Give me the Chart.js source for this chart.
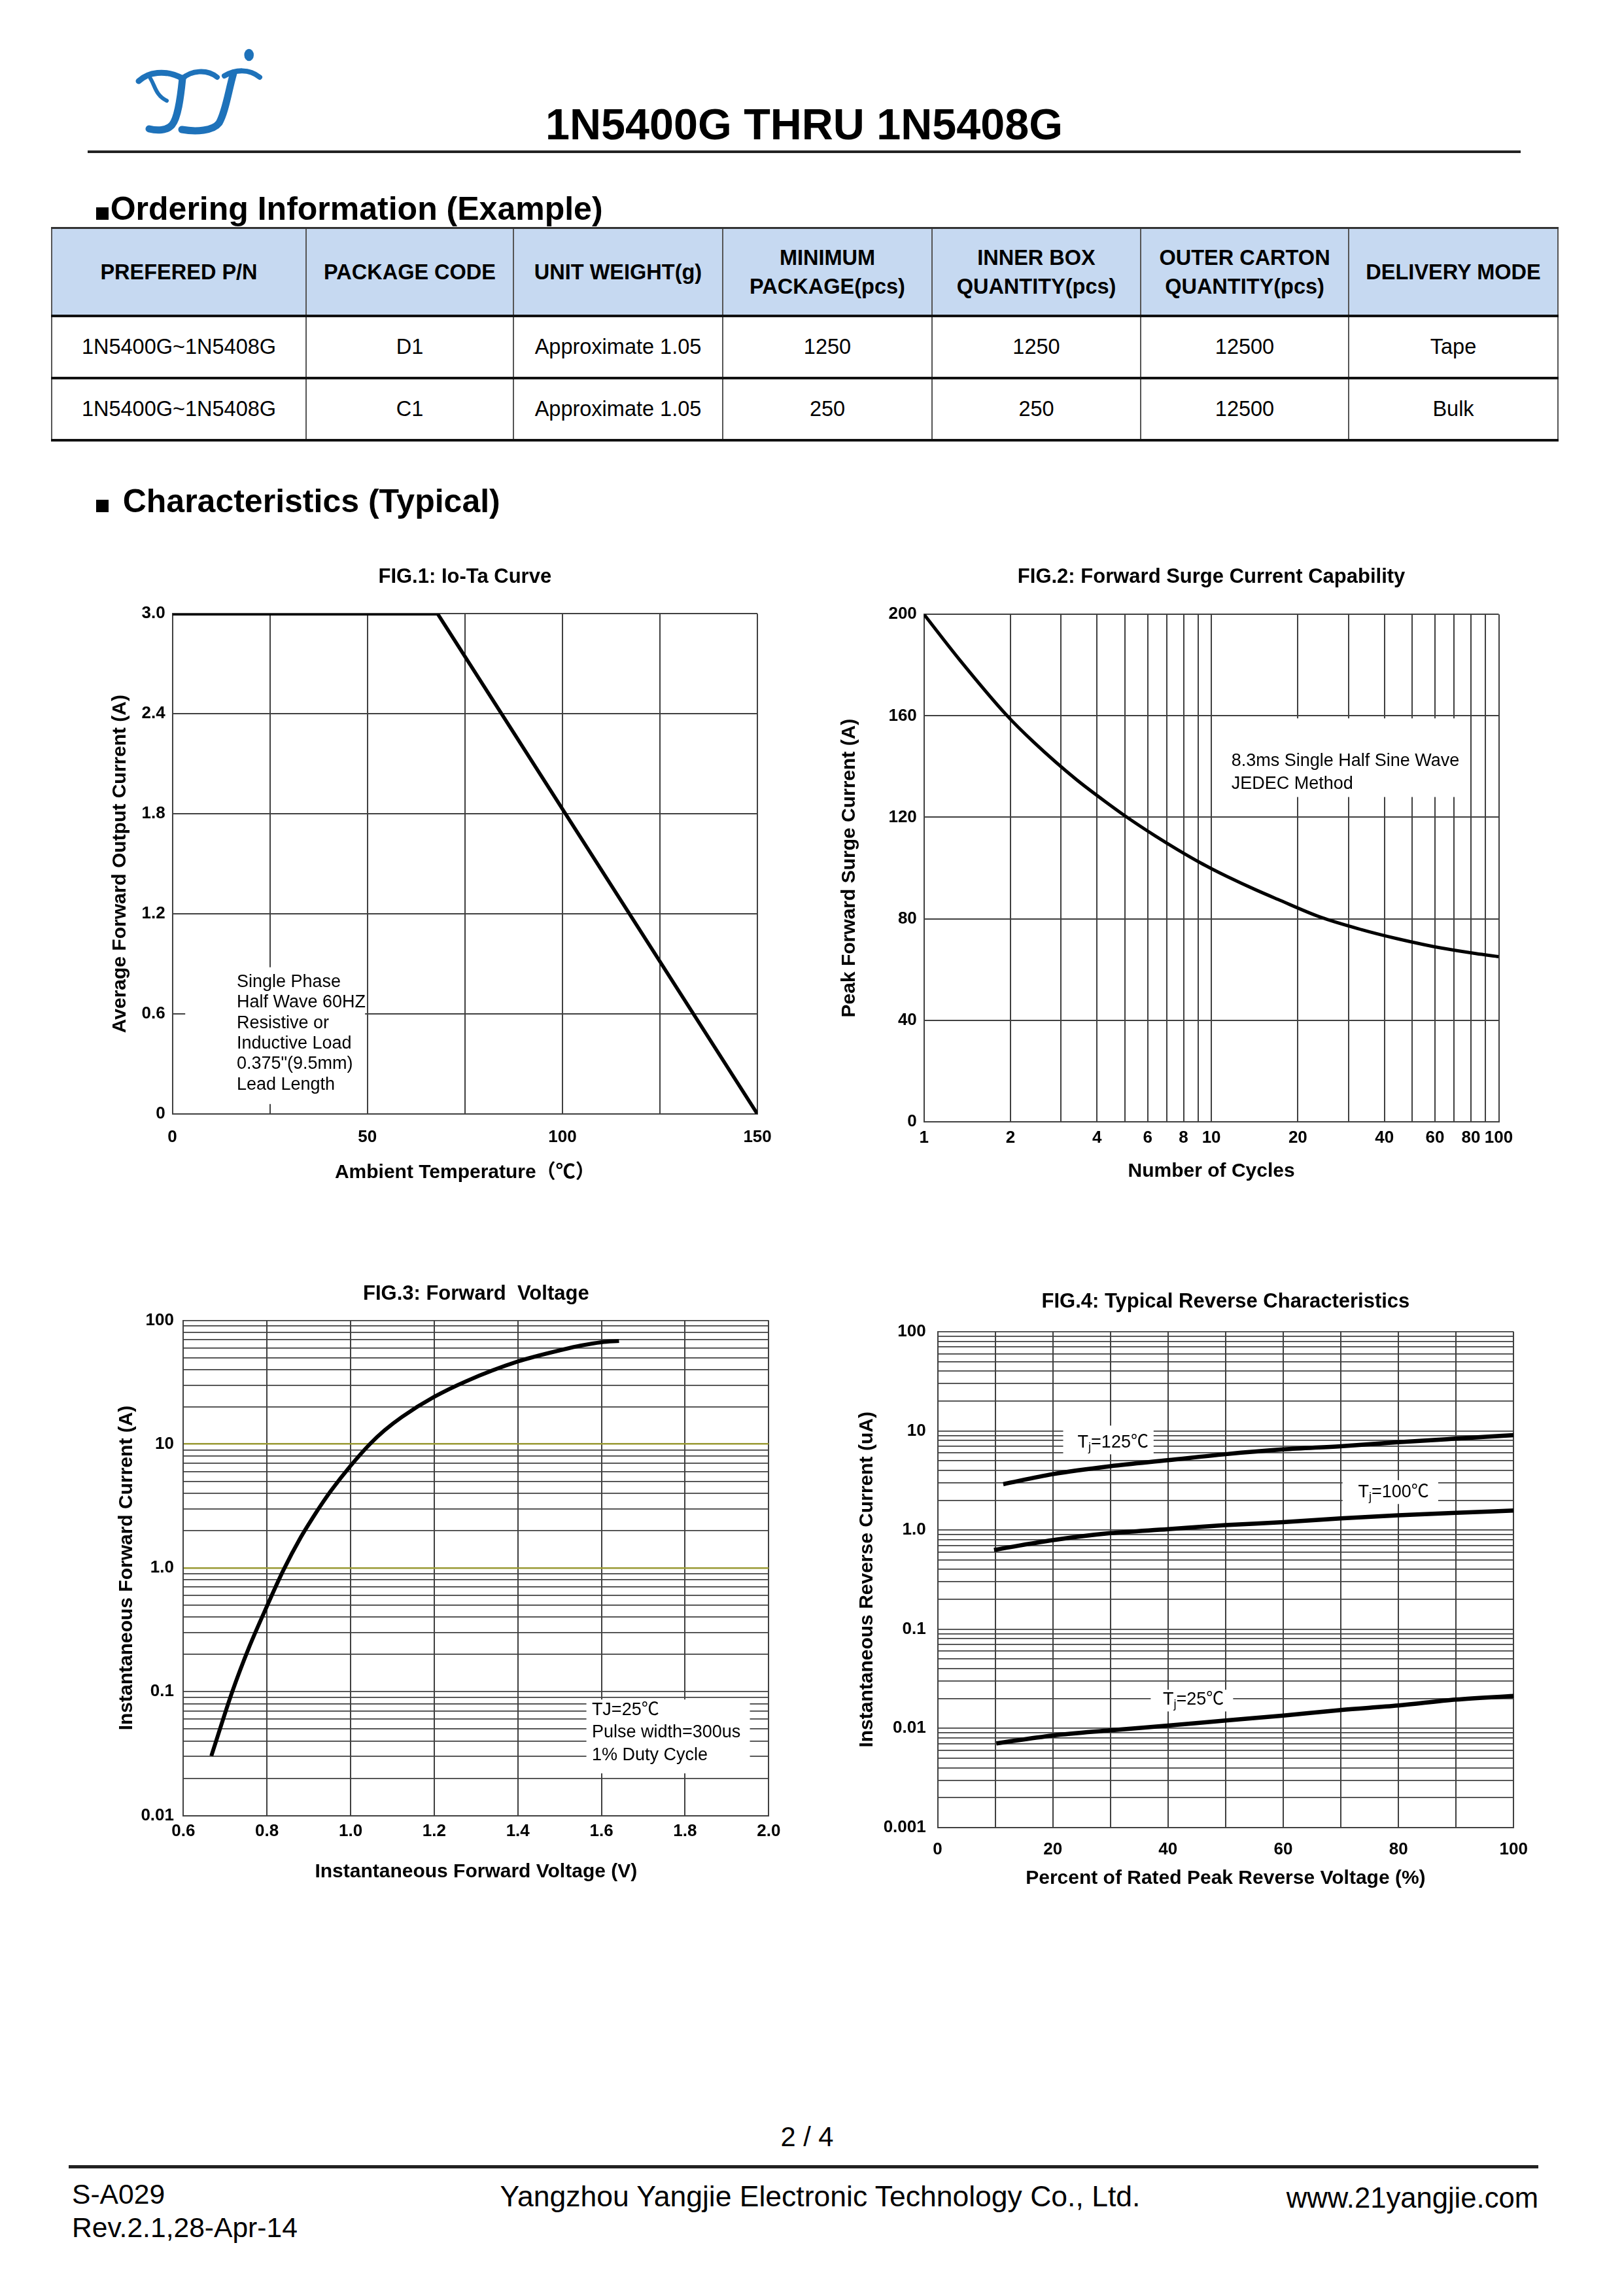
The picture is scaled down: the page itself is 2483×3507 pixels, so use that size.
<!DOCTYPE html>
<html>
<head>
<meta charset="utf-8">
<title>1N5400G THRU 1N5408G</title>
<script src="https://cdn.jsdelivr.net/npm/chart.js@4.4.1/dist/chart.umd.min.js"></script>
<style>
  html, body { margin: 0; padding: 0; background: #fff; }
  body { width: 2483px; height: 3507px; position: relative; overflow: hidden; color: #000;
         font-family: "Liberation Sans", Arial, "Noto Sans CJK SC", sans-serif; }
  .abs { position: absolute; white-space: nowrap; }
  canvas { position: absolute; }
  #doc-title { left: 0; width: 2459px; top: 157px; text-align: center; font-size: 66.5px; font-weight: bold; line-height: 66.5px; }
  .rule { position: absolute; background: #222; }
  .heading { font-size: 50px; font-weight: bold; line-height: 50px; }
  .sq { display: inline-block; width: 19px; height: 19px; background: #000; margin-right: 3px; }
  #order { position: absolute; left: 78px; top: 347px; width: 2303px; border-collapse: collapse; table-layout: fixed;
           border-left: 2px solid #444; border-right: 2px solid #444; }
  #order th { background: #c6d9f1; font-size: 32.5px; font-weight: bold; line-height: 44px; height: 131px; padding: 0;
              border-left: 2px solid #555; border-right: 2px solid #555; border-top: 3px solid #333; border-bottom: 4px solid #111; }
  #order td { font-size: 32.5px; text-align: center; height: 91px; padding: 0;
              border-left: 2px solid #555; border-right: 2px solid #555; border-bottom: 4px solid #111; }
  .foot { font-size: 42.6px; line-height: 42.6px; }
</style>
</head>
<body>

<svg class="abs" style="left:0;top:0" width="480" height="240" viewBox="0 0 480 240">
  <g fill="none" stroke="#1e72ba" stroke-linecap="round">
    <path stroke-width="9" d="M212 124 C226 111 252 105 279 120"/>
    <path stroke-width="8" d="M279 120 C292 108 316 105 332 118"/>
    <path stroke-width="6" d="M230 120 C237 131 238 146 255 154"/>
    <path stroke-width="11" d="M279 120 C276 150 272 180 263 191 C255 200 240 200 228 197"/>
    <path stroke-width="8" d="M343 116 C360 106 381 105 397 118"/>
    <path stroke-width="11" d="M357 112 C349 140 345 170 335 188 C326 200 300 202 278 198"/>
  </g>
  <ellipse cx="380.7" cy="84" rx="7.3" ry="9.3" fill="#1e72ba"/>
</svg>

<div id="doc-title" class="abs">1N5400G THRU 1N5408G</div>
<div class="rule" style="left:134px;top:230px;width:2191px;height:4px"></div>

<div class="abs heading" style="left:146.7px;top:293.5px"><span class="sq"></span>Ordering Information (Example)</div>

<table id="order">
  <colgroup>
    <col style="width:389px"><col style="width:317px"><col style="width:320px"><col style="width:320px">
    <col style="width:319px"><col style="width:318px"><col style="width:320px">
  </colgroup>
  <tr>
    <th>PREFERED P/N</th><th>PACKAGE CODE</th><th>UNIT WEIGHT(g)</th><th>MINIMUM<br>PACKAGE(pcs)</th>
    <th>INNER BOX<br>QUANTITY(pcs)</th><th>OUTER CARTON<br>QUANTITY(pcs)</th><th>DELIVERY MODE</th>
  </tr>
  <tr>
    <td>1N5400G~1N5408G</td><td>D1</td><td>Approximate 1.05</td><td>1250</td><td>1250</td><td>12500</td><td>Tape</td>
  </tr>
  <tr>
    <td>1N5400G~1N5408G</td><td>C1</td><td>Approximate 1.05</td><td>250</td><td>250</td><td>12500</td><td>Bulk</td>
  </tr>
</table>

<div class="abs heading" style="left:146.7px;top:740.5px"><span class="sq" style="margin-right:22px"></span>Characteristics (Typical)</div>

<canvas id="fig1"></canvas>
<canvas id="fig2"></canvas>
<canvas id="fig3"></canvas>
<canvas id="fig4"></canvas>

<div class="abs" style="left:1034px;width:400px;top:3245.5px;text-align:center;font-size:41.6px;line-height:41.6px">2 / 4</div>
<div class="rule" style="left:105px;top:3310px;width:2247px;height:5px"></div>
<div class="abs foot" style="left:110px;top:3333px">S-A029</div>
<div class="abs foot" style="left:110px;top:3384px">Rev.2.1,28-Apr-14</div>
<div class="abs foot" style="left:754px;width:1000px;top:3337px;text-align:center;font-size:44.5px">Yangzhou Yangjie Electronic Technology Co., Ltd.</div>
<div class="abs foot" style="right:131px;top:3339px;font-size:43.6px">www.21yangjie.com</div>

<script>
const FONT = '"Liberation Sans", Arial, "Noto Sans CJK SC", sans-serif';
const GRID = '#404040';
const OLIVE = '#9a9a34';
const TITLE_SIZE = 31;
const NOTE_SIZE = 27;

// FIG.1: Io-Ta
const ioTemp = [0, 68, 150];
const ioCurrent = [3.0, 3.0, 0];
const ioXTicks = [0, 25, 50, 75, 100, 125, 150];
const ioXLabelVals = [0, 50, 100, 150];
const ioXLabels = ['0', '50', '100', '150'];
const ioYTicks = [0, 0.6, 1.2, 1.8, 2.4, 3.0];
const ioYLabels = ['0', '0.6', '1.2', '1.8', '2.4', '3.0'];

// FIG.2: surge current vs cycles
const surgeCycles = [1, 1.33, 1.93, 2.4, 3.38, 4.43, 5.18, 6.39, 7.64, 9.18, 10.03, 11.38, 14.28, 17.0, 23.9, 33.4, 43.8, 55.1, 63.1, 83.2, 100];
const surgeAmps = [200, 182.1, 160.5, 149.8, 135.0, 124.9, 119.4, 112.6, 107.2, 102.0, 99.7, 96.6, 91.4, 87.7, 80.7, 75.7, 72.3, 69.8, 68.5, 66.3, 65.1];
const surgeXTicks = [1, 2, 3, 4, 5, 6, 7, 8, 9, 10, 20, 30, 40, 50, 60, 70, 80, 90, 100];
const surgeXLabelVals = [1, 2, 4, 6, 8, 10, 20, 40, 60, 80, 100];
const surgeXLabels = ['1', '2', '4', '6', '8', '10', '20', '40', '60', '80', '100'];
const surgeYTicks = [0, 40, 80, 120, 160, 200];
const surgeYLabels = ['0', '40', '80', '120', '160', '200'];

// FIG.3: forward voltage
const fwdVolts = [0.667, 0.717, 0.756, 0.8, 0.839, 0.881, 0.912, 0.933, 0.954, 1.0, 1.046, 1.081, 1.123, 1.2, 1.277, 1.4, 1.509, 1.551, 1.6, 1.642];
const fwdAmps = [0.0303, 0.1, 0.223, 0.491, 0.954, 1.77, 2.62, 3.36, 4.24, 6.68, 10.0, 12.9, 16.6, 24.1, 32.3, 46.5, 58.2, 62.6, 66.6, 68.2];
const fwdXTicks = [0.6, 0.8, 1.0, 1.2, 1.4, 1.6, 1.8, 2.0];
const fwdXLabels = ['0.6', '0.8', '1.0', '1.2', '1.4', '1.6', '1.8', '2.0'];
const fwdDecades = [0.01, 0.1, 1, 10, 100];
const fwdYLabels = ['0.01', '0.1', '1.0', '10', '100'];

// FIG.4: reverse current
const tj125Pct = [11.4, 20, 30, 40, 50, 60, 70, 80, 90, 100];
const tj125uA = [2.9, 3.66, 4.4, 5.06, 5.82, 6.5, 7.0, 7.68, 8.35, 9.05];
const tj100Pct = [9.8, 20, 30, 40, 50, 60, 70, 80, 90, 100];
const tj100uA = [0.63, 0.79, 0.93, 1.02, 1.12, 1.2, 1.31, 1.41, 1.49, 1.57];
const tj25Pct = [10.2, 20, 30, 40, 50, 60, 70, 80, 90, 100];
const tj25uA = [0.00705, 0.00847, 0.00955, 0.01067, 0.012, 0.01345, 0.0153, 0.017, 0.0195, 0.0212];
const revXTicks = [0, 10, 20, 30, 40, 50, 60, 70, 80, 90, 100];
const revXLabelVals = [0, 20, 40, 60, 80, 100];
const revXLabels = ['0', '20', '40', '60', '80', '100'];
const revDecades = [0.001, 0.01, 0.1, 1, 10, 100];
const revYLabels = ['0.001', '0.01', '0.1', '1.0', '10', '100'];

const logSteps = [1, 2, 3, 4, 5, 6, 7, 8, 9];
const logGrid = (dec) => dec.slice(0, -1).flatMap((d) => logSteps.map((m) => +(d * m).toPrecision(6))).concat(dec[dec.length - 1]);
const near = (a, b) => Math.abs(a - b) <= Math.abs(b) * 1e-6 + 1e-12;
const labelFor = (vals, texts) => (v) => { const i = vals.findIndex((t) => near(v, t)); return i < 0 ? '' : texts[i]; };
const pts = (xs, ys) => xs.map((x, i) => ({ x, y: ys[i] }));

// text boxes drawn over the grid, under the curves
function notes(items) {
  return {
    id: 'notes',
    beforeDatasetsDraw(chart) {
      const { ctx } = chart;
      const sx = chart.scales.x, sy = chart.scales.y;
      ctx.save();
      for (const n of items) {
        if (n.box) {
          const x0 = sx.getPixelForValue(n.box[0]), x1 = sx.getPixelForValue(n.box[2]);
          const y0 = sy.getPixelForValue(n.box[1]), y1 = sy.getPixelForValue(n.box[3]);
          ctx.fillStyle = '#fff';
          ctx.fillRect(Math.min(x0, x1), Math.min(y0, y1), Math.abs(x1 - x0), Math.abs(y1 - y0));
        }
        let py = sy.getPixelForValue(n.y);
        for (const line of n.lines) {
          let px = sx.getPixelForValue(n.x);
          for (const seg of (Array.isArray(line) ? line : [line])) {
            const s = typeof seg === 'string' ? { t: seg } : seg;
            const size = s.sub ? NOTE_SIZE * 0.68 : NOTE_SIZE;
            ctx.font = `${size}px ${FONT}`;
            ctx.fillStyle = '#000'; ctx.textBaseline = 'middle'; ctx.textAlign = 'left';
            ctx.fillText(s.t, px, py + (s.sub ? NOTE_SIZE * 0.28 : 0));
            px += ctx.measureText(s.t).width;
          }
          py += n.gap || 0;
        }
      }
      ctx.restore();
    },
  };
}

function axis(o) {
  return {
    type: o.type, min: o.min, max: o.max,
    afterBuildTicks: (s) => { s.ticks = o.ticks.map((v) => ({ value: v })); },
    afterFit: (s) => { if (o.horiz) s.height = o.size; else s.width = o.size; },
    grid: { color: o.gridColor || GRID, lineWidth: o.gridWidth || 2, drawTicks: false },
    border: { color: GRID, width: 2 },
    ticks: { autoSkip: false, maxRotation: 0, padding: o.tickPad, color: '#000',
             font: { family: FONT, size: 26, weight: 'bold' }, callback: labelFor(o.labelVals, o.labels) },
    title: { display: true, text: o.title, color: '#000', font: { family: FONT, size: 30, weight: 'bold', lineHeight: 1.2 },
             padding: o.horiz ? { top: 0, bottom: o.titlePad } : { top: o.titlePad, bottom: 0 } },
  };
}

// f: plot area and text anchors in page pixels; dy nudges the whole figure
function figure(id, f0, spec) {
  const d = f0.dy || 0;
  const f = Object.assign({}, f0, { T: f0.T + d, B: f0.B + d, titleY: f0.titleY + d, xTitleY: f0.xTitleY + d, xLabelY: f0.xLabelY + d });
  const cx = Math.round(f.L - 150), cy = Math.round(f.T - 110);
  const cw = Math.round(f.R + 80 - cx), ch = Math.round(f.B + 160 - cy);
  const el = document.getElementById(id);
  el.width = cw; el.height = ch;
  Object.assign(el.style, { left: cx + 'px', top: cy + 'px', width: cw + 'px', height: ch + 'px' });
  const pad = 8;
  const pr = cw - (f.R - cx);
  const pt = f.titleY - cy - TITLE_SIZE * 0.6;
  const titleGap = f.T - cy - pt - TITLE_SIZE * 1.2;
  const yw = f.L - cx - pad;
  const xh = ch - pad - (f.B - cy);
  const x = Object.assign({}, spec.x, { horiz: true, size: xh, tickPad: f.xLabelY - f.B - 15.6, titlePad: (cy + ch - pad) - f.xTitleY - 18 });
  const y = Object.assign({}, spec.y, { horiz: false, size: yw, tickPad: f.L - f.yLabelR, titlePad: f.yTitleX - (cx + pad) - 18 });
  return new Chart(el, {
    type: 'line',
    data: {
      datasets: spec.series.map((s) => ({
        data: s, borderColor: '#000', borderWidth: spec.lineWidth, pointRadius: 0, fill: false,
        tension: 0, cubicInterpolationMode: spec.smooth ? 'monotone' : 'default',
      })),
    },
    options: {
      responsive: false, animation: false, devicePixelRatio: 1,
      layout: { padding: { left: pad, right: pr, top: pt, bottom: pad } },
      plugins: {
        legend: { display: false }, tooltip: { enabled: false },
        title: { display: true, text: spec.title, fullSize: false, color: '#000',
                 font: { family: FONT, size: TITLE_SIZE, weight: 'bold', lineHeight: 1.2 }, padding: { top: 0, bottom: titleGap } },
      },
      scales: { x: axis(x), y: axis(y) },
    },
    plugins: [notes(spec.notes || [])],
  });
}

figure('fig1', { L: 263.5, T: 934.2, R: 1158.1, B: 1699.1, titleY: 878.8, yTitleX: 183.3, xTitleY: 1789.2, xLabelY: 1734.7, yLabelR: 252.6, dy: 4 }, {
  title: 'FIG.1: Io-Ta Curve', lineWidth: 5.5,
  series: [pts(ioTemp, ioCurrent)],
  x: { type: 'linear', min: 0, max: 150, ticks: ioXTicks, labelVals: ioXLabelVals, labels: ioXLabels, title: 'Ambient Temperature（℃）' },
  y: { type: 'linear', min: 0, max: 3, ticks: ioYTicks, labelVals: ioYTicks, labels: ioYLabels, title: 'Average Forward Output Current (A)' },
  notes: [{ box: [3.3, 0.06, 49.4, 0.88], x: 16.5, y: 0.79, gap: 31.3,
            lines: ['Single Phase', 'Half Wave 60HZ', 'Resistive or', 'Inductive Load', '0.375"(9.5mm)', 'Lead Length'] }],
});

figure('fig2', { L: 1412.7, T: 937.2, R: 2291.5, B: 1712.9, titleY: 880.7, yTitleX: 1298.8, xTitleY: 1789.2, xLabelY: 1737.7, yLabelR: 1401.8, dy: 2 }, {
  title: 'FIG.2: Forward Surge Current Capability', lineWidth: 5, smooth: true,
  series: [pts(surgeCycles, surgeAmps)],
  x: { type: 'logarithmic', min: 1, max: 100, ticks: surgeXTicks, labelVals: surgeXLabelVals, labels: surgeXLabels, title: 'Number of Cycles' },
  y: { type: 'linear', min: 0, max: 200, ticks: surgeYTicks, labelVals: surgeYTicks, labels: surgeYLabels, title: 'Peak Forward Surge Current (A)' },
  notes: [{ box: [11.2, 128, 76, 159], x: 11.74, y: 142.1, gap: 35, lines: ['8.3ms Single Half Sine Wave', 'JEDEC Method'] }],
});

figure('fig3', { L: 280.3, T: 2016.5, R: 1175.3, B: 2773.5, titleY: 1976.4, yTitleX: 194.2, xTitleY: 2860.1, xLabelY: 2798, yLabelR: 266, dy: 2 }, {
  title: 'FIG.3: Forward  Voltage', lineWidth: 6, smooth: true,
  series: [pts(fwdVolts, fwdAmps)],
  x: { type: 'linear', min: 0.6, max: 2.0, ticks: fwdXTicks, labelVals: fwdXTicks, labels: fwdXLabels, title: 'Instantaneous Forward Voltage (V)' },
  y: { type: 'logarithmic', min: 0.01, max: 100, ticks: logGrid(fwdDecades), labelVals: fwdDecades, labels: fwdYLabels,
       title: 'Instantaneous Forward Current (A)',
       gridWidth: (c) => (c.tick && (near(c.tick.value, 1) || near(c.tick.value, 10)) ? 2.6 : 1.8),
       gridColor: (c) => (c.tick && (near(c.tick.value, 1) || near(c.tick.value, 10)) ? OLIVE : GRID) },
  notes: [{ box: [1.564, 0.0219, 1.955, 0.0865], x: 1.577, y: 0.071, gap: 34.5,
            lines: ['TJ=25℃', 'Pulse width=300us', '1% Duty Cycle'] }],
});

figure('fig4', { L: 1433.5, T: 2032.9, R: 2314.3, B: 2790.8, titleY: 1987.3, yTitleX: 1325.5, xTitleY: 2869.1, xLabelY: 2824.5, yLabelR: 1415.7, dy: 3 }, {
  title: 'FIG.4: Typical Reverse Characteristics', lineWidth: 6.5, smooth: true,
  series: [pts(tj125Pct, tj125uA), pts(tj100Pct, tj100uA), pts(tj25Pct, tj25uA)],
  x: { type: 'linear', min: 0, max: 100, ticks: revXTicks, labelVals: revXLabelVals, labels: revXLabels, title: 'Percent of Rated Peak Reverse Voltage (%)' },
  y: { type: 'logarithmic', min: 0.001, max: 100, ticks: logGrid(revDecades), labelVals: revDecades, labels: revYLabels,
       title: 'Instantaneous Reverse Current (uA)', gridWidth: 1.8 },
  notes: [
    { box: [21.8, 5.8, 37.5, 11.3], x: 24.3, y: 7.6, lines: [['T', { t: 'j', sub: true }, '=125℃']] },
    { box: [70.3, 1.83, 86.9, 3.18], x: 73.0, y: 2.4, lines: [['T', { t: 'j', sub: true }, '=100℃']] },
    { box: [37, 0.0148, 51.3, 0.0245], x: 39.1, y: 0.0195, lines: [['T', { t: 'j', sub: true }, '=25℃']] },
  ],
});
</script>
</body>
</html>
